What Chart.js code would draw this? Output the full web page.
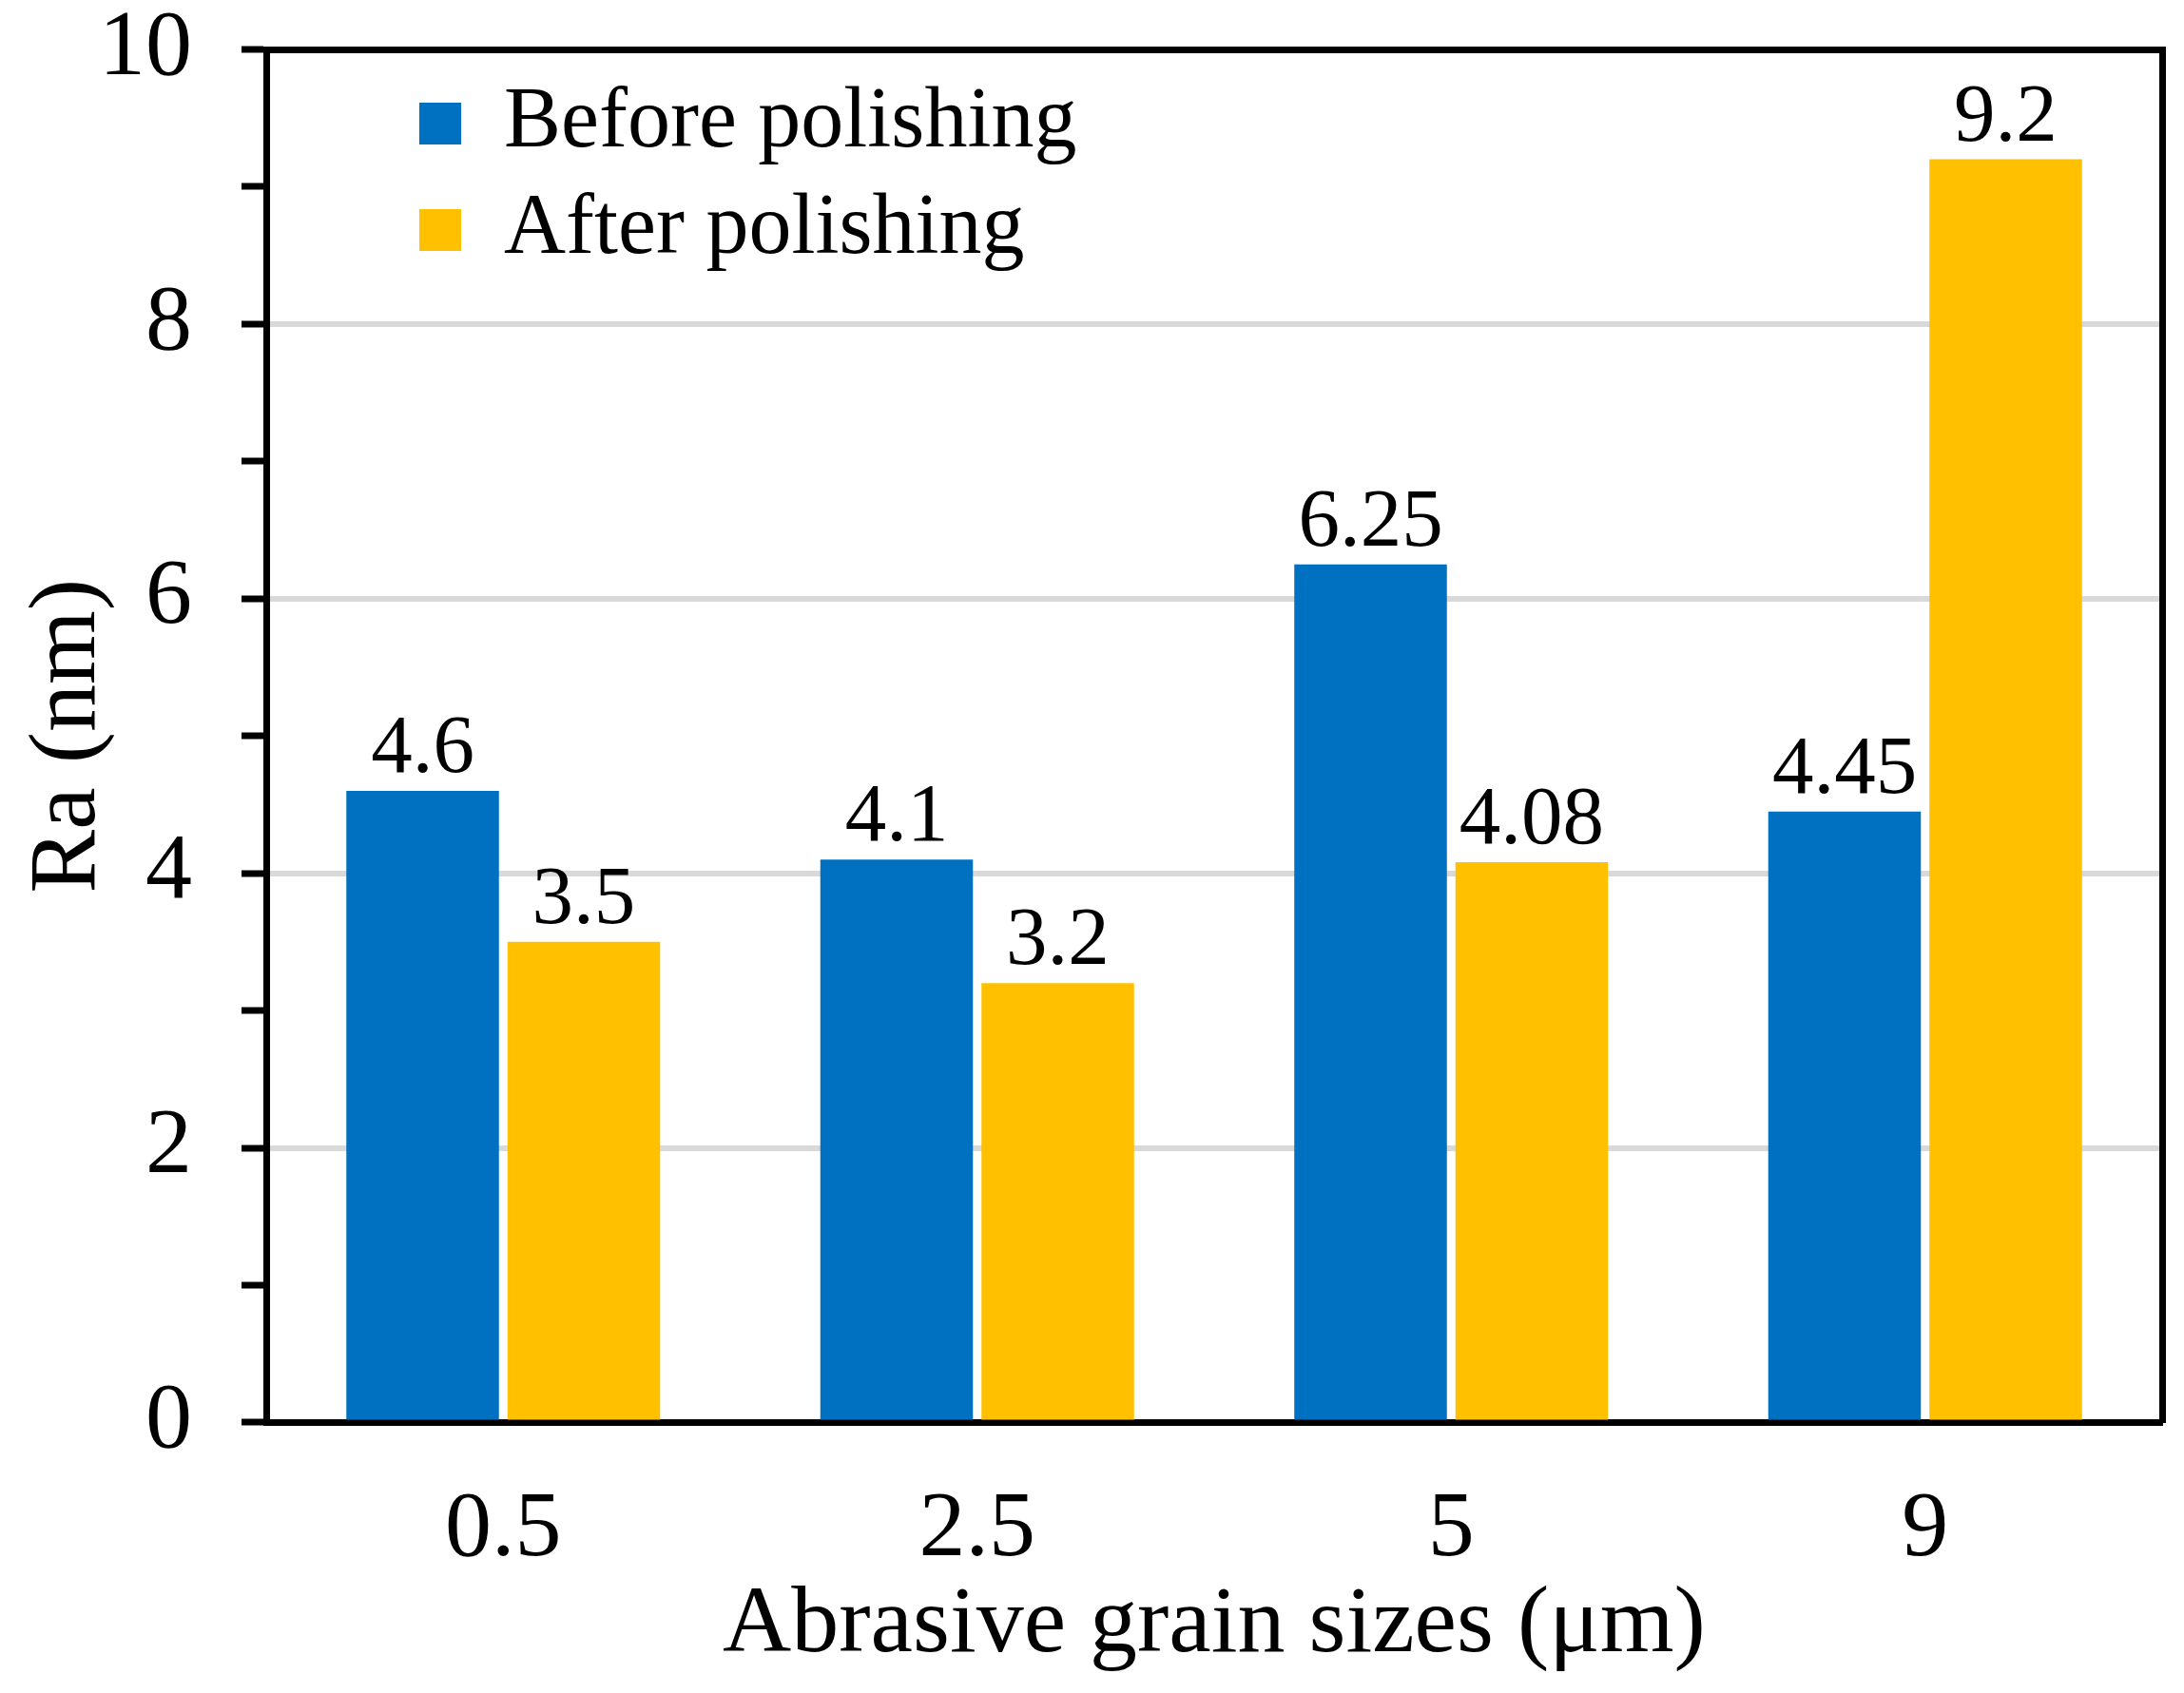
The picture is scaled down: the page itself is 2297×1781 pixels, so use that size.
<!DOCTYPE html>
<html>
<head>
<meta charset="utf-8">
<script src="https://cdn.jsdelivr.net/npm/chart.js@4.4.1/dist/chart.umd.min.js"></script>
<style>
  html, body { margin: 0; padding: 0; background: #fff; }
  #wrap { width: 2297px; height: 1781px; }
</style>
</head>
<body>
<div id="wrap"><canvas id="raChart"></canvas></div>
<script>
const grainSizes = ['0.5', '2.5', '5', '9'];
const beforePolishing = [4.6, 4.1, 6.25, 4.45];
const afterPolishing = [3.5, 3.2, 4.08, 9.2];
const seriesNames = ['Before polishing', 'After polishing'];
const seriesColors = ['#0070c0', '#ffc000']; // excel blue / gold
const gridColor = '#d9d9d9';
const serif = '"Liberation Serif", "Times New Roman", serif';

Chart.defaults.font.family = serif;
Chart.defaults.color = '#000';

// value printed above every bar
const valueLabels = {
  id: 'valueLabels',
  afterDatasetsDraw(chart) {
    const ctx = chart.ctx;
    ctx.save();
    ctx.font = '87px ' + serif;
    ctx.fillStyle = '#000';
    ctx.textAlign = 'center';
    ctx.textBaseline = 'alphabetic';
    chart.data.datasets.forEach((ds, i) => {
      chart.getDatasetMeta(i).data.forEach((bar, j) => {
        ctx.fillText(String(ds.data[j]), bar.x, bar.y - 20);
      });
    });
    ctx.restore();
  },
};

// legend sits inside the plot, top left
const legendPlacer = {
  id: 'legendPlacer',
  afterLayout(chart) {
    const lg = chart.legend;
    lg.left = chart.chartArea.left + 139;
    lg.top = chart.chartArea.top + 11;
    lg.right = lg.left + lg.width;
    lg.bottom = lg.top + lg.height;
  },
};

const edge = { color: '#000', width: 7 };
const noGrid = { display: false, drawTicks: false };

new Chart(document.getElementById('raChart'), {
  type: 'bar',
  data: {
    labels: grainSizes,
    datasets: [{
      label: seriesNames[0],
      data: beforePolishing,
      backgroundColor: seriesColors[0],
      borderWidth: 0,
    }, {
      label: seriesNames[1],
      data: afterPolishing,
      backgroundColor: seriesColors[1],
      borderWidth: 0,
    }],
  },
  options: {
    responsive: true,
    maintainAspectRatio: false,
    animation: false,
    layout: { padding: { left: 0, top: 3, right: 23, bottom: 30 } },
    datasets: { bar: { categoryPercentage: 0.68, barPercentage: 0.947 } },
    plugins: {
      tooltip: { enabled: false },
      legend: {
        position: 'chartArea',
        align: 'start',
        labels: {
          boxWidth: 44,
          boxHeight: 44,
          padding: 22,
          color: '#000',
          font: { size: 90, family: serif },
        },
      },
    },
    scales: {
      x: {
        z: 1,
        grid: noGrid,
        border: edge,
        ticks: { font: { size: 98, lineHeight: 1.2 }, color: '#000', padding: 55 },
        title: {
          display: true,
          text: 'Abrasive grain sizes (μm)',
          color: '#000',
          font: { size: 100, lineHeight: 0.8 },
          padding: { top: -53, bottom: 0 },
        },
      },
      y: {
        min: 0,
        max: 10,
        border: edge,
        grid: {
          color: c => (c.tick && c.tick.value % 2 === 0 ? gridColor : 'rgba(0,0,0,0)'),
          lineWidth: 6,
          tickColor: '#000',
          tickWidth: 7,
          tickLength: 26,
        },
        ticks: {
          stepSize: 1,
          autoSkip: false,
          callback: v => (v % 2 === 0 ? v : ''),
          font: { size: 98, lineHeight: 0 },
          color: '#000',
          padding: 52,
        },
        title: {
          display: true,
          text: 'Ra (nm)',
          color: '#000',
          font: { size: 100, lineHeight: 0.4 },
          padding: { top: 53, bottom: -41 },
        },
      },
      xTop: {
        type: 'category',
        position: 'top',
        labels: grainSizes,
        grid: noGrid,
        ticks: { display: false },
        border: edge,
      },
      yRight: {
        type: 'linear',
        position: 'right',
        min: 0,
        max: 10,
        grid: noGrid,
        ticks: { display: false },
        border: edge,
      },
    },
  },
  plugins: [valueLabels, legendPlacer],
});
</script>
</body>
</html>
